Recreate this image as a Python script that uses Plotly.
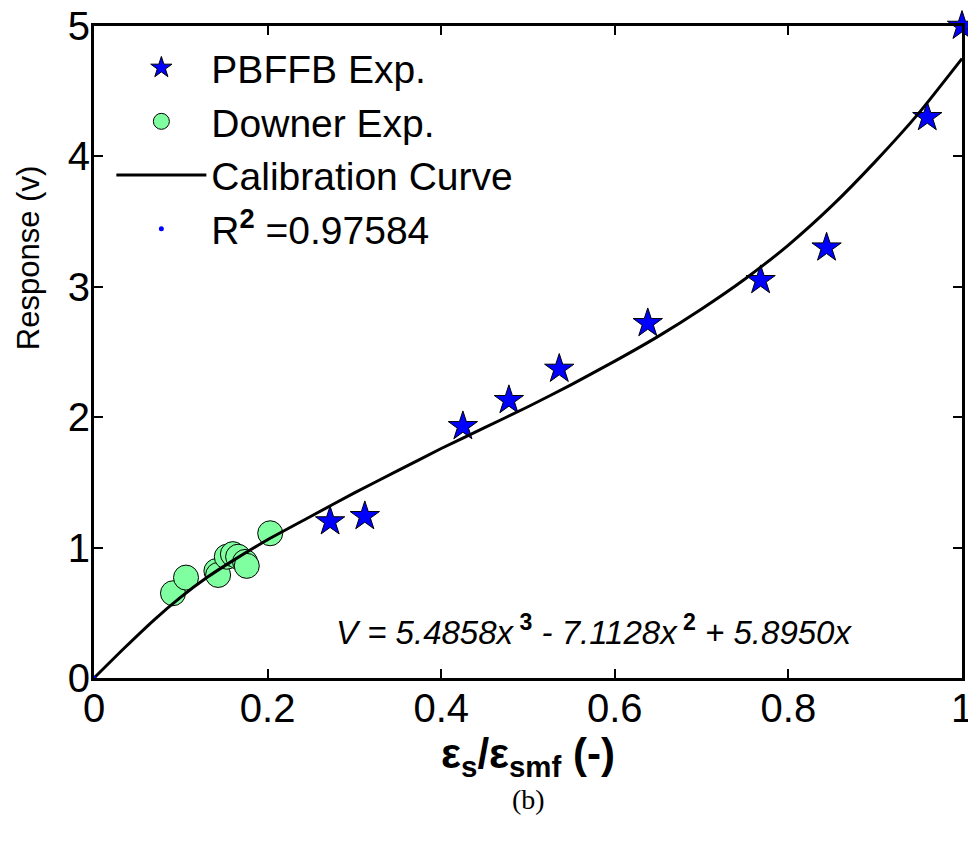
import plotly.graph_objects as go

# PBFFB experimental points
pbffb_x = [0.272, 0.312, 0.425, 0.478, 0.536, 0.638, 0.768, 0.844, 0.960, 1.000]
pbffb_y = [1.20, 1.24, 1.93, 2.13, 2.37, 2.72, 3.05, 3.30, 4.30, 5.00]

# Downer experimental points
downer_x = [0.091, 0.106, 0.141, 0.143, 0.153, 0.160, 0.166, 0.174, 0.176, 0.203]
downer_y = [0.65, 0.77, 0.82, 0.79, 0.93, 0.95, 0.93, 0.89, 0.86, 1.11]

# Calibration curve
curve_x = [0.0, 0.035, 0.07, 0.1, 0.13, 0.16, 0.2, 0.25, 0.3, 0.35, 0.4, 0.45, 0.5,
           0.55, 0.6, 0.65, 0.7, 0.75, 0.8, 0.85, 0.9, 0.95, 1.0]
curve_y = [0.0, 0.23, 0.45, 0.62, 0.77, 0.90, 1.06, 1.24, 1.42, 1.59, 1.76, 1.92, 2.08,
           2.25, 2.43, 2.62, 2.83, 3.06, 3.32, 3.62, 3.96, 4.33, 4.75]

r2_x = [0.0]
r2_y = [0.0]

x_ticks = [0, 0.2, 0.4, 0.6, 0.8, 1]
x_ticklabels = ["0", "0.2", "0.4", "0.6", "0.8", "1"]
y_ticks = [0, 1, 2, 3, 4, 5]

FONT = "Liberation Sans, Arial, sans-serif"

fig = go.Figure()
fig.add_trace(go.Scatter(
    x=pbffb_x, y=pbffb_y, mode="markers", name="PBFFB Exp.",
    marker=dict(symbol="star", size=22, color="#0000ff",
                line=dict(color="black", width=1)),
    cliponaxis=False))
fig.add_trace(go.Scatter(
    x=downer_x, y=downer_y, mode="markers", name="Downer Exp.",
    marker=dict(symbol="circle", size=25, color="rgb(128,255,160)",
                line=dict(color="black", width=1)),
    cliponaxis=False))
fig.add_trace(go.Scatter(
    x=curve_x, y=curve_y, mode="lines", name="Calibration Curve",
    line=dict(color="black", width=3, shape="spline", smoothing=0.5)))
fig.add_trace(go.Scatter(
    x=r2_x, y=r2_y, mode="markers", name="R<sup><b>2</b></sup> =0.97584",
    marker=dict(symbol="circle", size=5, color="#0000ff"),
    cliponaxis=False))

fig.update_layout(
    width=968, height=859,
    margin=dict(l=94, r=6, t=26, b=181, autoexpand=False),
    paper_bgcolor="white", plot_bgcolor="white",
    font=dict(family=FONT, color="black"),
    showlegend=True,
    legend=dict(x=0.02, y=0.985, xanchor="left", yanchor="top",
                bgcolor="rgba(0,0,0,0)", borderwidth=0,
                font=dict(family=FONT, size=39, color="black"),
                itemwidth=90, tracegroupgap=0),
    xaxis=dict(range=[0, 1], tickvals=x_ticks, ticktext=x_ticklabels,
               ticks="inside", ticklen=9, tickwidth=2, tickcolor="black",
               showline=True, linewidth=3, linecolor="black", mirror="ticks",
               showgrid=False, zeroline=False, ticklabeloverflow="allow",
               ticklabelstandoff=-7, automargin=False,
               tickfont=dict(family=FONT, size=40),
               title=dict(text="<b>ε<sub>s</sub>/ε<sub>smf</sub> (-)</b>",
                          font=dict(family=FONT, size=42), standoff=2)),
    yaxis=dict(range=[0, 5], tickvals=y_ticks,
               ticks="inside", ticklen=9, tickwidth=2, tickcolor="black",
               showline=True, linewidth=3, linecolor="black", mirror="ticks",
               showgrid=False, zeroline=False, ticklabeloverflow="allow",
               ticklabelstandoff=-7, automargin=False,
               tickfont=dict(family=FONT, size=40)),
    annotations=[
        dict(text="Response (v)", textangle=-90,
             xref="paper", yref="paper", x=-0.076, y=0.644,
             xanchor="center", yanchor="middle", showarrow=False,
             font=dict(family=FONT, size=31, color="black")),
        dict(text="<i>V = 5.4858x</i><sup><b> 3</b></sup><i> - 7.1128x</i><sup><b> 2</b></sup><i> + 5.8950x</i>",
             xref="paper", yref="paper", x=0.576, y=0.073,
             xanchor="center", yanchor="middle", showarrow=False,
             font=dict(family=FONT, size=33, color="black")),
        dict(text="(b)", xref="paper", yref="paper", x=0.5, y=-0.187,
             xanchor="center", yanchor="middle", showarrow=False,
             font=dict(family="Liberation Serif, Times New Roman, serif", size=28, color="black")),
    ],
)

fig.write_html("out.html")
